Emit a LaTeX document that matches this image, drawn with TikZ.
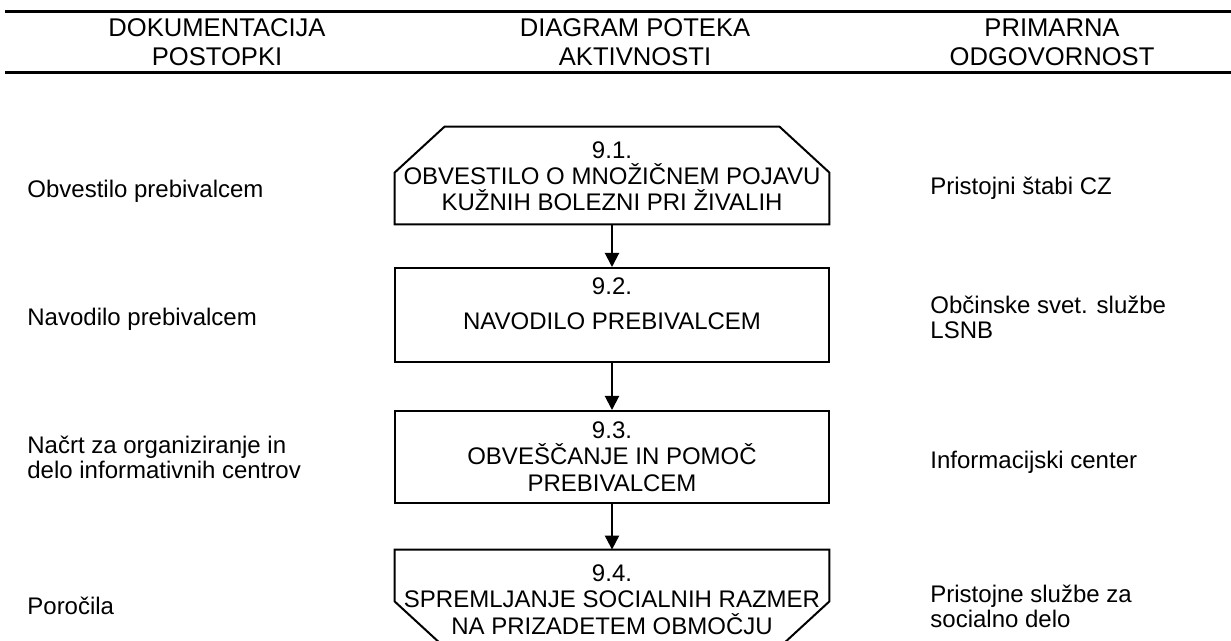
\documentclass[tikz,border=0pt]{standalone}
\usepackage{fontspec}
\setmainfont{Liberation Sans}
\usetikzlibrary{arrows.meta,calc,positioning}
\tikzset{
  headText/.style = {align=center, inner sep=0pt, anchor=base,
    font=\fontsize{12.8}{14.5}\selectfont},
  sideText/.style = {align=left, inner sep=0pt, anchor=base west,
    font=\fontsize{12}{12.5}\selectfont},% levi in desni stolpec
  boxText/.style = {align=center, inner sep=0pt, anchor=base,
    font=\fontsize{12}{13.2}\selectfont},% besedilo v okvirjih
  flowBox/.style = {rectangle, inner sep=0pt, minimum width=217pt},
  boxLine/.style = {line width=1pt, line join=miter},
  flowArrow/.style = {line width=1pt, -{Triangle[width=7pt,length=7pt]}},
  headRule/.style = {line width=1.5pt},
}

\begin{document}
\begin{tikzpicture}[x=0.5pt,y=-0.5pt]
\useasboundingbox (0,0) rectangle (1231,641);
% glava
\draw[headRule] (5,12) -- (1231,12);
\draw[headRule] (5,73) -- (1231,73);
\node[headText] (headDoc) at (217,66) {DOKUMENTACIJA\\POSTOPKI};
\node[headText] (headFlow) at (635,66) {DIAGRAM POTEKA\\AKTIVNOSTI};
\node[headText] (headResp) at (1052,66) {PRIMARNA\\ODGOVORNOST};

% okvirji
\node[flowBox, minimum height=48.5pt] (box1) at (612,175.5) {};
\node[flowBox, draw, line width=1pt, minimum height=47pt] (box2) at (612,315) {};
\node[flowBox, draw, line width=1pt, minimum height=46pt] (box3) at (612,457) {};
\node[flowBox, minimum height=48.5pt] (box4) at (612,598.5) {};
\draw[boxLine] (box1.south west) -- ($(box1.north west)+(0,46)$)
  -- ($(box1.north west)+(50,0)$) -- ($(box1.north east)+(-50,0)$)
  -- ($(box1.north east)+(0,46)$) -- (box1.south east) -- cycle;
\draw[boxLine] (box4.north west) -- ($(box4.south west)+(0,-46)$)
  -- ($(box4.south west)+(50,0)$) -- ($(box4.south east)+(-50,0)$)
  -- ($(box4.south east)+(0,-46)$) -- (box4.north east) -- cycle;

\node[boxText] (txt1) at (612,211) {9.1.\\OBVESTILO O MNOŽIČNEM POJAVU\\KUŽNIH BOLEZNI PRI ŽIVALIH};
\node[boxText] (txt2) at (612,330) {9.2.\\[4.5pt]NAVODILO PREBIVALCEM};
\node[boxText] (txt3) at (612,491) {9.3.\\OBVEŠČANJE IN POMOČ\\PREBIVALCEM};
\node[boxText] (txt4) at (612,634) {9.4.\\SPREMLJANJE SOCIALNIH RAZMER\\NA PRIZADETEM OBMOČJU};

\draw[flowArrow] (box1.south) -- (box2.north);
\draw[flowArrow] (box2.south) -- (box3.north);
\draw[flowArrow] (box3.south) -- (box4.north);

% dokumentacija
\node[sideText] (doc1) at (27,198) {Obvestilo prebivalcem};
\node[sideText] (doc2) at (27,326) {Navodilo prebivalcem};
\node[sideText] (doc3) at (27,478) {Načrt za organiziranje in\\delo informativnih centrov};
\node[sideText] (doc4) at (27,614) {Poročila};

% odgovornost
\node[sideText] (resp1) at (930,195) {Pristojni štabi CZ};
\node[sideText] (resp2) at (930,339) {Občinske svet. službe\\LSNB};
\node[sideText] (resp3) at (930,468) {Informacijski center};
\node[sideText] (resp4) at (930,627) {Pristojne službe za\\socialno delo};
\end{tikzpicture}
\end{document}
